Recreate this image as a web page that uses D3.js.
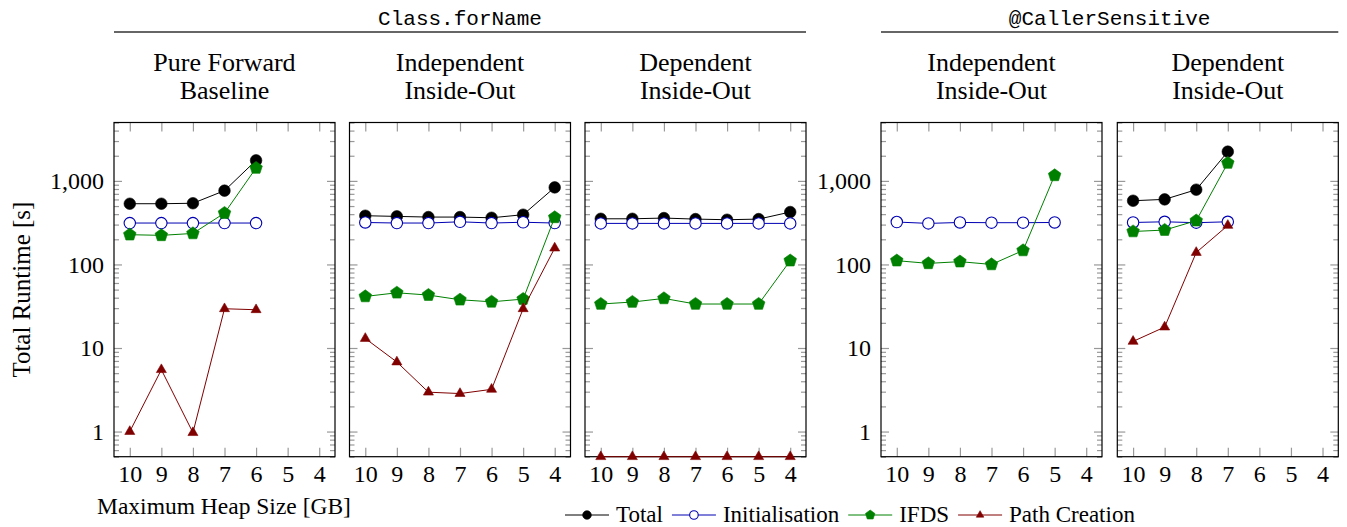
<!DOCTYPE html>
<html>
<head>
<meta charset="utf-8">
<script src="https://cdn.jsdelivr.net/npm/d3@7"></script>
<style>
  body { margin: 0; background: #fff; }
  svg text { font-family: "Liberation Serif", "Tinos", "Times New Roman", "DejaVu Serif", serif; fill: #000; }
  svg text.mono { font-family: "Liberation Mono", "Cousine", "DejaVu Sans Mono", monospace; }
</style>
</head>
<body>
<div id="chart"></div>
<script>
// heap sizes on the x axis (GB)
var heapSizes = [10, 9, 8, 7, 6, 5, 4];
var majorTicks = [1, 10, 100, 1000];
var groupTitles = ["Class.forName", "@CallerSensitive"];
var panelTitles = [["Pure Forward", "Baseline"], ["Independent", "Inside-Out"], ["Dependent", "Inside-Out"],
                   ["Independent", "Inside-Out"], ["Dependent", "Inside-Out"]];
var seriesNames = ["Total", "Initialisation", "IFDS", "Path Creation"];

// runtimes in seconds, one row per panel, one column per heap size (null = no run)
var totalRuntime = [
  [533, 533, 540, 764, 1760, null, null],
  [383, 376, 369, 369, 362, 394, 836],
  [352, 352, 359, 349, 343, 349, 424],
  [null, null, null, null, null, null, null],
  [579, 601, 785, 2238, null, null, null]
];
var initRuntime = [
  [313, 313, 313, 313, 313, null, null],
  [318, 313, 313, 324, 313, 320, 313],
  [310, 310, 310, 310, 310, 310, 310],
  [322, 310, 318, 316, 316, 318, null],
  [318, 324, 316, 324, null, null, null]
];
var ifdsRuntime = [
  [227, 223, 235, 412, 1427, null, null],
  [41.4, 45.8, 43, 37.8, 35.7, 38.5, 366],
  [33.6, 35.5, 39.2, 33.6, 33.6, 33.6, 111],
  [111, 103, 108, 100, 147, 1164, null],
  [248, 258, 334, 1637, null, null, null]
];
var pathRuntime = [
  [1.0, 5.5, 0.97, 29.5, 28.7, null, null],
  [13, 6.8, 2.96, 2.85, 3.2, 29.5, 157],
  [0.5, 0.5, 0.5, 0.5, 0.5, 0.5, 0.5],
  [null, null, null, null, null, null, null],
  [12, 17.8, 139, 293, null, null, null]
];
var allSeries = [totalRuntime, initRuntime, ifdsRuntime, pathRuntime];

var seriesColors = ["#000000", "#0000b3", "#008000", "#800000"];
var seriesMarks = ["dot", "circle", "pentagon", "triangle"];

var width = 1347, height = 527;
var panelLeft = [114, 349.5, 585, 881, 1117.3];
var panelTop = 122.5, panelW = 221, panelH = 334.2;

var svg = d3.select("#chart").append("svg")
  .attr("width", width).attr("height", height);

var x = d3.scaleLinear().domain([10.5, 3.5]).range([0, panelW]);
var y = d3.scaleLog().domain([0.5, 5000]).range([panelH, 0]);

var allTicks = y.ticks();
var minorTicks = allTicks.filter(function(t) { return majorTicks.indexOf(t) < 0; });

function markPath(type, r) {
  if (type == "dot" || type == "circle") {
    return d3.symbol(d3.symbolCircle, Math.PI * r * r)();
  }
  var n = type == "pentagon" ? 5 : 3;
  var pts = [];
  for (var k = 0; k < n; k++) {
    var a = -Math.PI / 2 + k * 2 * Math.PI / n;
    pts.push([r * Math.cos(a), r * Math.sin(a)]);
  }
  return "M" + pts.map(function(p) { return p[0].toFixed(2) + "," + p[1].toFixed(2); }).join("L") + "Z";
}
var markSize = {dot: 5.8, circle: 5.7, pentagon: 6.6, triangle: 5.8};

function styleMark(sel, s, scale) {
  sel.attr("d", markPath(seriesMarks[s], markSize[seriesMarks[s]] * scale))
    .attr("fill", seriesMarks[s] == "circle" ? "#fff" : seriesColors[s])
    .attr("stroke", seriesColors[s])
    .attr("stroke-width", seriesMarks[s] == "circle" ? 1.1 : 0.6);
}

// group headers
[[0, 2], [3, 4]].forEach(function(span, g) {
  var x0 = panelLeft[span[0]], x1 = panelLeft[span[1]] + panelW;
  svg.append("line").attr("x1", x0).attr("x2", x1).attr("y1", 32).attr("y2", 32)
    .attr("stroke", "#333").attr("stroke-width", 1.3);
  svg.append("text").attr("class", "mono").attr("x", (x0 + x1) / 2).attr("y", 25)
    .attr("text-anchor", "middle")
    .style("font-size", "21px")
    .text(groupTitles[g]);
});

panelLeft.forEach(function(left, i) {
  var g = svg.append("g").attr("transform", "translate(" + left + "," + panelTop + ")");

  // panel title
  var t = g.append("text").attr("text-anchor", "middle").style("font-size", "26px");
  panelTitles[i].forEach(function(line, k) {
    t.append("tspan").attr("x", panelW / 2).attr("y", -51.5 + k * 28).text(line);
  });

  // minor ticks
  [d3.axisLeft(y).tickSize(-5), d3.axisRight(y).tickSize(-5)].forEach(function(ax, k) {
    g.append("g").attr("transform", "translate(" + (k ? panelW : 0) + ",0)")
      .call(ax.tickValues(minorTicks).tickFormat(""));
  });
  // major ticks
  g.append("g")
    .call(d3.axisLeft(y).tickValues(majorTicks).tickSize(-8).tickPadding(10)
      .tickFormat(i == 0 || i == 3 ? d3.format(",") : ""));
  g.append("g").attr("transform", "translate(" + panelW + ",0)")
    .call(d3.axisRight(y).tickValues(majorTicks).tickSize(-8).tickFormat(""));
  g.append("g").attr("transform", "translate(0," + panelH + ")")
    .call(d3.axisBottom(x).tickValues(heapSizes).tickSize(-9).tickPadding(8).tickFormat(d3.format("d")));
  g.append("g").call(d3.axisTop(x).tickValues(heapSizes).tickSize(-9).tickFormat(""));

  g.selectAll(".domain").remove();
  g.selectAll("g").attr("font-family", null).attr("font-size", null);
  g.selectAll(".tick line").attr("stroke", "#999").attr("stroke-width", 1.2);
  g.selectAll(".tick text").style("font-size", "24px").attr("fill", "#000");

  g.append("rect").attr("width", panelW).attr("height", panelH)
    .attr("fill", "none").attr("stroke", "#000").attr("stroke-width", 1.2);

  // series
  allSeries.forEach(function(series, s) {
    var pts = heapSizes.map(function(h, j) { return {h: h, v: series[i][j]}; })
      .filter(function(d) { return d.v != null; });
    if (!pts.length) return;
    var line = d3.line().x(function(d) { return x(d.h); }).y(function(d) { return y(d.v); });
    g.append("path").datum(pts).attr("d", line)
      .attr("fill", "none").attr("stroke", seriesColors[s]).attr("stroke-width", 1);
    g.selectAll(".m" + s).data(pts).enter().append("path")
      .attr("class", "m" + s)
      .attr("transform", function(d) { return "translate(" + x(d.h) + "," + y(d.v) + ")"; })
      .call(styleMark, s, 1);
  });
});

// axis labels
svg.append("text").attr("transform", "translate(30," + (panelTop + panelH / 2) + ") rotate(-90)")
  .attr("text-anchor", "middle").style("font-size", "25px").text("Total Runtime [s]");
svg.append("text").attr("x", 224).attr("y", 514)
  .attr("text-anchor", "middle").style("font-size", "23.5px").text("Maximum Heap Size [GB]");

// legend
var legend = svg.append("g").attr("transform", "translate(565,515)");
var cx = 0;
seriesNames.forEach(function(name, s) {
  legend.append("line").attr("x1", cx).attr("x2", cx + 44).attr("y1", 0).attr("y2", 0)
    .attr("stroke", seriesColors[s]).attr("stroke-width", 1);
  legend.append("path").attr("transform", "translate(" + (cx + 22) + ",0)")
    .call(styleMark, s, 0.75);
  var t = legend.append("text").attr("x", cx + 51).attr("y", 6.5)
    .style("font-size", "23px").text(name);
  cx += 51 + t.node().getComputedTextLength() + 9;
});
</script>
</body>
</html>
